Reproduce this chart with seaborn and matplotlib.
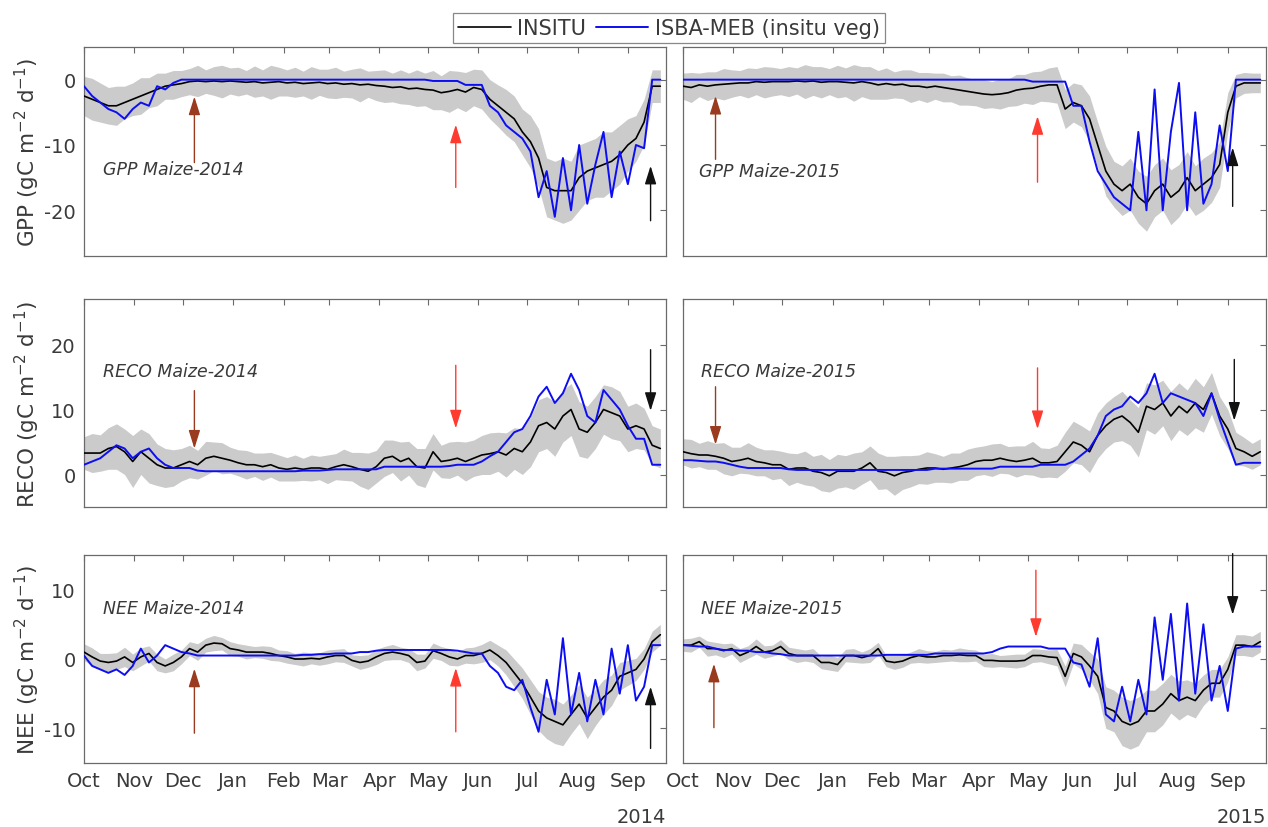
import numpy as np
import pandas as pd
import matplotlib
matplotlib.use("Agg")
import matplotlib.pyplot as plt
import matplotlib.dates as mdates
from matplotlib.lines import Line2D
import seaborn as sns

# values read every 5 days, starting Oct 1 of each hydrological year
STEP = 5
NPTS = 72

gpp14_insitu = [-2.5, -3, -3.5, -4, -4, -3.5,
                -3, -2.5, -2, -1.5, -1, -0.8, -0.6,
                -0.3, -0.2, -0.3, -0.2, -0.3, -0.2,
                -0.3, -0.4, -0.3, -0.5, -0.4, -0.3,
                -0.5, -0.4, -0.6, -0.5, -0.4, -0.6,
                -0.5, -0.7, -0.6, -0.8, -0.7, -0.9,
                -1.0, -1.2, -1.1, -1.4, -1.3, -1.5,
                -1.6, -2.0, -1.8, -1.5, -1.9, -1.2,
                -1.5, -3, -4, -5, -6, -8,
                -9.5, -12, -16.5, -17, -17, -17,
                -15, -14, -13.5, -13, -12.5, -11.5,
                -10, -9, -6.5, -1, -1]
gpp14_model = [-1, -2.5, -3.5, -4.5, -5, -6,
               -4.5, -3.5, -4, -1, -1.5, -0.5, 0,
               0, 0, 0, 0, 0, 0,
               0, 0, 0, 0, 0, 0,
               0, 0, 0, 0, 0, 0,
               0, 0, 0, 0, 0, 0,
               0, 0, 0, 0, 0, 0,
               -0.2, -0.2, -0.2, -0.2, -0.8, -0.8,
               -0.8, -4, -5, -7, -8, -9,
               -11, -18, -14, -21, -12, -20,
               -10, -19, -13, -8, -18, -11,
               -16, -10, -10.5, 0, 0]
gpp14_spread = [3, 3.2, 3, 2.8, 3, 2.5,
                2.5, 2.8, 2.3, 2.5, 2, 2.2, 2,
                2, 2.4, 1.8, 2.2, 2.5, 2,
                2.2, 1.8, 2.4, 2, 2.6, 2.2,
                2, 2.3, 1.9, 2.5, 2, 2.2,
                2.4, 2, 2.2, 2.6, 2, 2.3,
                2.5, 2.2, 2.6, 2.4, 2.8, 2.5,
                3, 2.6, 3.2, 2.8, 3, 2.8,
                3, 3, 3.2, 3.5, 3.5, 3.5,
                4, 4.5, 4.5, 4.5, 5, 4.5,
                5, 4.5, 4.5, 5, 4.5, 4.5,
                4, 3.5, 3.5, 2.5, 2.5]

gpp15_insitu = [-1, -1.2, -0.8, -1, -0.8, -0.7,
                -0.6, -0.5, -0.5, -0.3, -0.4, -0.3, -0.3,
                -0.3, -0.2, -0.3, -0.2, -0.4, -0.3,
                -0.3, -0.4, -0.5, -0.3, -0.5, -0.8,
                -0.6, -0.8, -0.7, -1, -1, -1.2,
                -1, -1.2, -1.4, -1.6, -1.8, -2,
                -2.2, -2.3, -2.2, -2, -1.6, -1.4,
                -1.3, -1, -0.8, -0.8, -4.5, -3.5,
                -4, -6, -10, -14, -16, -17,
                -16, -18, -19, -17, -16, -18,
                -17, -15, -17, -16, -15, -13,
                -5, -1, -0.5, -0.5, -0.5]
gpp15_model = [0, 0, 0, 0, 0, 0,
               0, 0, 0, 0, 0, 0, 0,
               0, 0, 0, 0, 0, 0,
               0, 0, 0, 0, 0, 0,
               0, 0, 0, 0, 0, 0,
               0, 0, 0, 0, 0, 0,
               0, 0, 0, 0, 0, 0,
               -0.3, -0.3, -0.3, -0.3, -0.3, -4,
               -4, -9.5, -14, -16, -18, -19,
               -20, -8, -20, -1.5, -20, -8,
               -0.5, -20, -5, -19, -16, -7,
               -14, 0, 0, 0, 0]
gpp15_spread = [2, 2.3, 1.8, 2.2, 2, 2.4,
                2.1, 1.9, 2.3, 2, 2.4, 2.2, 2,
                2.3, 2, 2.6, 2.2, 2.4, 2,
                2.5, 2.2, 2.8, 2.3, 2.5, 2.2,
                2.4, 2, 2.2, 2.5, 2.1, 2.3,
                2, 2.2, 2, 2.3, 2.1, 2,
                2.2, 2, 2.3, 2.1, 2.4, 2.2,
                2.5, 2.3, 2.6, 2.8, 3, 3,
                3.2, 3.5, 3.5, 3.8, 3.5, 3.8,
                4, 4, 4.2, 4, 4, 4.2,
                4, 4, 3.8, 4, 3.8, 3.5,
                3, 1.8, 1.6, 1.5, 1.5]

reco14_insitu = [3.3, 3.3, 3.3, 4, 4.3, 3.5,
                 2, 3.5, 2.5, 1.5, 1, 1, 1.5,
                 2, 1.5, 2.5, 2.8, 2.5, 2.2,
                 1.8, 1.5, 1.5, 1.2, 1.5, 1.0,
                 0.8, 1, 0.8, 1, 1, 0.8,
                 1.2, 1.5, 1.2, 0.8, 0.5, 1.2,
                 2.5, 2.8, 2, 2.5, 1.2, 1,
                 3.5, 2, 2.2, 2.5, 2, 2.5,
                 3, 3.2, 3.5, 3, 4, 3.5,
                 5, 7.5, 8, 7, 9, 10,
                 7, 6.5, 8, 10, 9.5, 9,
                 7, 7.5, 7, 4.5, 4]
reco14_model = [1.5, 2, 2.5, 3.5, 4.5, 4,
                2.5, 3.5, 4, 2.5, 1.5, 1, 1,
                1, 0.6, 0.5, 0.5, 0.5, 0.5,
                0.5, 0.5, 0.5, 0.5, 0.5, 0.5,
                0.5, 0.5, 0.6, 0.6, 0.6, 0.7,
                0.8, 0.8, 0.8, 0.8, 0.8, 0.8,
                1.2, 1.2, 1.2, 1.2, 1.2, 1.2,
                1.2, 1.2, 1.3, 1.5, 1.5, 1.5,
                2, 2.8, 3.5, 5, 6.5, 7,
                9, 12, 13.5, 11, 12.5, 15.5,
                13, 9, 8, 13, 11.5, 10,
                7.5, 5.5, 5.5, 1.5, 1.5]
reco14_spread = [2.5, 3, 2.8, 3.2, 3.5, 3.5,
                 4, 3.5, 3.8, 3.2, 3, 2.8, 2.5,
                 2.5, 2.2, 2.6, 2.2, 2.4, 2,
                 2, 2.2, 1.8, 2.1, 1.9, 2,
                 1.8, 2, 1.7, 2, 1.8, 2.2,
                 2, 2.4, 2.2, 2.6, 2.8, 2.5,
                 2.8, 2.5, 3, 2.6, 2.8, 3,
                 2.8, 2.5, 2.8, 2.6, 3, 2.8,
                 3, 3.2, 3, 3.4, 3.2, 3.5,
                 3.8, 4, 4, 4.2, 4, 4,
                 4.2, 4, 4, 3.8, 4, 3.8,
                 3.5, 3.5, 3.2, 3, 3]

reco15_insitu = [3.5, 3.2, 3, 3, 2.8, 2.5,
                 2, 2.2, 2.5, 2, 1.8, 1.5, 1.5,
                 0.8, 1, 1, 0.5, 0.3, -0.2,
                 0.5, 0.5, 0.5, 1, 1.8, 0.5,
                 0.3, -0.2, 0.3, 0.5, 0.8, 1,
                 1, 0.8, 1, 1.2, 1.5, 2,
                 2.2, 2.2, 2.5, 2.2, 2, 2.2,
                 2.5, 1.8, 1.8, 2, 3.5, 5,
                 4.5, 3.5, 6, 7.5, 8.5, 9,
                 8, 6.5, 10.5, 10, 11, 9,
                 10.5, 9.5, 11, 10, 12.5, 9,
                 7, 4, 3.5, 2.8, 3.5]
reco15_model = [2.2, 2.2, 2.1, 2, 2, 1.8,
                1.5, 1.2, 1, 1, 1, 1, 1,
                0.8, 0.7, 0.7, 0.7, 0.7, 0.7,
                0.7, 0.7, 0.7, 0.7, 0.7, 0.7,
                0.7, 0.7, 0.7, 0.7, 0.7, 0.7,
                0.9, 0.9, 0.9, 0.9, 0.9, 0.9,
                0.9, 0.9, 1.2, 1.2, 1.2, 1.2,
                1.2, 1.5, 1.5, 1.5, 1.5, 2,
                3, 4, 6, 9, 10, 10.5,
                12, 11, 12.5, 15.5, 11, 12.5,
                12, 11.5, 11, 9, 12.5, 8.5,
                5, 1.5, 1.8, 1.8, 1.8]
reco15_spread = [2, 2.2, 1.8, 2.2, 2, 2.4,
                 2.2, 2, 2.4, 2.2, 2, 2.3, 2.1,
                 2.5, 2.2, 2.6, 2.3, 2.8, 2.5,
                 2.6, 2.4, 2.8, 2.5, 2.6, 2.8,
                 2.5, 3, 2.6, 2.4, 2.2, 2.5,
                 2.2, 2, 2.3, 2.1, 2.4, 2.2,
                 2.2, 2.5, 2.3, 2.1, 2.4, 2.2,
                 2.6, 2.3, 2.2, 2.5, 3, 3.2,
                 3, 3.2, 3.5, 3.5, 3.5, 3.8,
                 3.5, 3.8, 3.6, 3.8, 3.5, 3.8,
                 3.6, 3.5, 3.8, 3.5, 3.2, 3,
                 3, 2.5, 2.2, 2, 2]

nee14_insitu = [1, 0.3, -0.3, -0.5, -0.3, 0.3,
                -0.5, 0.3, 0.8, -0.5, -1, -0.5, 0.3,
                1.5, 1, 2, 2.3, 2.2, 1.5,
                1.3, 1, 1, 1, 0.8, 0.5,
                0.3, 0, 0, 0.1, 0, 0.3,
                0.5, 0.5, -0.2, -0.5, -0.3, 0.3,
                0.8, 1, 0.8, 0.5, -0.5, -0.3,
                1.2, 0.8, 0.3, 0, 0.5, 0.5,
                0.8, 1.3, 0.5, -0.5, -2, -3.5,
                -5.5, -7.5, -8.5, -9, -9.5, -8,
                -6.5, -8.5, -7, -5.5, -4.5, -2.5,
                -2, -1.5, 0, 2.5, 3.5]
nee14_model = [0.5, -1, -1.5, -2, -1.5, -2.3,
               -1, 1.5, -0.5, 0.5, 2, 1.5, 1,
               0.8, 0.5, 0.5, 0.5, 0.5, 0.5,
               0.5, 0.5, 0.5, 0.5, 0.5, 0.5,
               0.5, 0.5, 0.6, 0.6, 0.7, 0.7,
               0.8, 0.8, 0.8, 1, 1, 1.2,
               1.3, 1.3, 1.3, 1.3, 1.3, 1.3,
               1.3, 1.3, 1.3, 1.2, 1, 0.8,
               0.8, -1, -2, -4, -4.5, -3,
               -7, -10.5, -3, -8, 3, -8,
               -2, -9, -3, -8, 1.5, -5,
               2, -6, -4, 2, 2]
nee14_spread = [1.2, 1.3, 1.1, 1.3, 1.2, 1.4,
                1.2, 1.3, 1.1, 1.2, 1, 1.2, 1,
                1, 1.2, 1, 1.1, 0.9, 1,
                0.9, 1, 0.8, 0.9, 1, 0.8,
                0.9, 0.8, 1, 0.8, 0.9, 1,
                0.9, 1, 0.8, 1, 0.9, 1.1,
                1, 1.1, 0.9, 1, 1.2, 1,
                1.1, 1, 1.2, 1, 1.1, 1.2,
                1.3, 1.4, 1.5, 1.8, 2, 2.2,
                2.5, 2.8, 3, 3.2, 3, 2.8,
                2.8, 3, 2.6, 2.5, 2.2, 2,
                1.8, 1.6, 1.5, 1.5, 1.5]

nee15_insitu = [2, 2, 2.5, 1.5, 1.5, 1.2,
                1.5, 0.5, 1, 1.8, 1, 1.2, 1.8,
                0.8, 0.5, 0.5, 0.5, -0.5, -0.5,
                -0.8, 0.5, 0.5, 0.2, 0.5, 1.5,
                -0.3, -0.5, -0.3, 0.2, 0.5, 0.3,
                0.3, 0.5, 0.5, 0.6, 0.5, 0.5,
                -0.2, -0.2, -0.3, -0.3, -0.3, -0.2,
                0.5, 0.5, 0.3, 0.2, -2.5, 0.8,
                0.3, -1, -2.5, -7, -7.5, -9,
                -9.5, -9, -7.5, -7.5, -6.5, -5,
                -6, -5.5, -6, -4.5, -3.5, -3.5,
                -1.5, 2, 2, 1.8, 2.5]
nee15_model = [2, 1.9, 1.8, 1.8, 1.5, 1.3,
               1.3, 1.2, 1.2, 1, 1, 0.8, 0.7,
               0.5, 0.5, 0.5, 0.5, 0.5, 0.5,
               0.5, 0.5, 0.5, 0.5, 0.5, 0.5,
               0.6, 0.6, 0.6, 0.6, 0.6, 0.6,
               0.8, 0.8, 0.8, 0.8, 0.8, 0.8,
               0.8, 1, 1.5, 1.8, 1.8, 1.8,
               1.8, 1.8, 1.5, 1.5, 1.5, -0.5,
               -0.8, -4, 3, -8, -9, -4,
               -9, -3, -8, 6, -3, 6.5,
               -6, 8, -5, 5, -6, -1,
               -7.5, 1.5, 1.8, 1.8, 1.8]
nee15_spread = [0.9, 1, 0.8, 1.1, 0.9, 1,
                0.8, 1, 0.9, 1.1, 0.9, 0.8, 1,
                0.9, 1, 0.8, 1, 0.9, 1.1,
                1, 0.9, 1, 0.8, 1, 0.9,
                0.8, 1, 0.9, 0.8, 1, 0.9,
                0.8, 0.9, 0.8, 1, 0.9, 0.8,
                0.9, 1, 0.8, 0.9, 1, 0.9,
                1, 0.9, 1, 1.2, 1.5, 1.5,
                1.8, 2, 2.5, 3, 3, 3.5,
                3.5, 3.5, 3, 3, 3, 2.8,
                2.8, 2.5, 2.5, 2.2, 2, 2,
                1.8, 1.5, 1.5, 1.5, 1.5]

# arrows: (day since Oct 1, tail y, tip y, colour key)
gpp14_arrows = [(68, -12.7, -2.6, "brown"), (229, -16.5, -6.9, "red"), (349, -21.6, -13.2, "black")]
reco14_arrows = [(68, 12.9, 4.0, "brown"), (229, 16.8, 7.1, "red"), (349, 19.2, 9.8, "black")]
nee14_arrows = [(68, -10.7, -1.4, "brown"), (229, -10.5, -1.3, "red"), (349, -12.9, -4.0, "black")]
gpp15_arrows = [(20, -12.2, -2.5, "brown"), (218, -15.7, -5.6, "red"), (338, -19.4, -10.4, "black")]
reco15_arrows = [(20, 13.5, 4.6, "brown"), (218, 16.4, 7.0, "red"), (339, 17.7, 8.3, "black")]
nee15_arrows = [(19, -9.9, -0.7, "brown"), (217, 12.8, 3.2, "red"), (338, 15.2, 6.4, "black")]

ARROW_COLORS = {"brown": "#9a3a1e", "red": "#ff3b30", "black": "#111111"}

ylabels = ["GPP (gC m$^{-2}$ d$^{-1}$)", "RECO (gC m$^{-2}$ d$^{-1}$)", "NEE (gC m$^{-2}$ d$^{-1}$)"]
ylims = [(-27, 5), (-5, 27), (-15, 15)]
yticks = [[-20, -10, 0], [0, 10, 20], [-10, 0, 10]]
year_starts = ["2013-10-01", "2014-10-01"]
year_labels = ["2014", "2015"]

panels = [
    [("GPP Maize-2014", gpp14_insitu, gpp14_model, gpp14_spread, gpp14_arrows, (12, -13.7)),
     ("GPP Maize-2015", gpp15_insitu, gpp15_model, gpp15_spread, gpp15_arrows, (10, -14.0))],
    [("RECO Maize-2014", reco14_insitu, reco14_model, reco14_spread, reco14_arrows, (12, 15.9)),
     ("RECO Maize-2015", reco15_insitu, reco15_model, reco15_spread, reco15_arrows, (11, 15.9))],
    [("NEE Maize-2014", nee14_insitu, nee14_model, nee14_spread, nee14_arrows, (12, 7.4)),
     ("NEE Maize-2015", nee15_insitu, nee15_model, nee15_spread, nee15_arrows, (11, 7.3))],
]

sns.set_style("white")
plt.rcParams["font.family"] = ["DejaVu Sans"]
plt.rcParams["axes.unicode_minus"] = False
plt.rcParams["mathtext.default"] = "regular"

TXT = "#3a3a3a"
SPINE = "#6a6a6a"
BAND = "#cbcbcb"
BLUE = "#0d0df2"

W, H = 1268, 828
fig = plt.figure(figsize=(W / 100, H / 100), dpi=100)

col_x = [(84, 666), (683, 1266)]
row_y = [(48, 257), (300, 508), (556, 764)]

days = np.arange(NPTS) * STEP
for r in range(3):
    for c in range(2):
        name, ins, mod, spr, arrows, lab = panels[r][c]
        assert len(ins) == NPTS and len(mod) == NPTS and len(spr) == NPTS
        x0, x1 = col_x[c]
        yt, yb = row_y[r]
        ax = fig.add_axes([x0 / W, 1 - yb / H, (x1 - x0) / W, (yb - yt) / H])
        start = pd.Timestamp(year_starts[c])
        dates = start + pd.to_timedelta(days, unit="D")
        df = pd.DataFrame({"date": dates, "insitu": ins, "model": mod, "spread": spr})
        ax.fill_between(df["date"], df["insitu"] - df["spread"], df["insitu"] + df["spread"],
                        color=BAND, lw=0, zorder=1)
        sns.lineplot(data=df, x="date", y="insitu", color="black", lw=1.2, ax=ax, zorder=3)
        sns.lineplot(data=df, x="date", y="model", color=BLUE, lw=1.4, ax=ax, zorder=4)

        for d, y0, y1, ck in arrows:
            xd = start + pd.Timedelta(days=d)
            ax.annotate("", xy=(xd, y1), xytext=(xd, y0), zorder=6,
                        arrowprops=dict(arrowstyle="-|>,head_length=0.7,head_width=0.22",
                                        color=ARROW_COLORS[ck], lw=1.0, mutation_scale=16,
                                        shrinkA=0, shrinkB=0))
        ax.text(start + pd.Timedelta(days=lab[0]), lab[1], name, style="italic",
                fontsize=12.5, color=TXT, ha="left", va="center", zorder=7)

        ax.set_xlim(start, start + pd.Timedelta(days=358.5))
        ax.set_ylim(*ylims[r])
        ax.set_yticks(yticks[r])
        ax.xaxis.set_major_locator(mdates.MonthLocator())
        ax.xaxis.set_major_formatter(mdates.DateFormatter("%b"))
        ax.tick_params(direction="in", length=4, width=0.8, color=SPINE, labelcolor=TXT,
                       labelsize=14, pad=6, top=True, right=True)
        for sp in ax.spines.values():
            sp.set_color(SPINE)
            sp.set_linewidth(0.9)
        ax.set_xlabel("")
        if c == 0:
            ax.set_ylabel(ylabels[r], fontsize=15.5, color=TXT)
            ax.yaxis.set_label_coords(-0.072, 0.5)
        else:
            ax.set_ylabel("")
            ax.set_yticklabels([])
        if r < 2:
            ax.set_xticklabels([])
        else:
            ax.text(1.0, -0.255, year_labels[c], transform=ax.transAxes, ha="right",
                    va="center", fontsize=14, color=TXT)

handles = [Line2D([], [], color="black", lw=1.2), Line2D([], [], color=BLUE, lw=1.4)]
leg = fig.legend(handles, ["INSITU", "ISBA-MEB (insitu veg)"], loc="center",
                 bbox_to_anchor=(669 / W, 1 - 29 / H), ncol=2, frameon=True, fancybox=False,
                 fontsize=15, handlelength=2.5, handletextpad=0.3, columnspacing=0.5,
                 borderpad=0.25, labelcolor=TXT)
leg.get_frame().set_edgecolor(SPINE)
leg.get_frame().set_linewidth(0.9)

fig.savefig("out.png", dpi=100, facecolor="white")
